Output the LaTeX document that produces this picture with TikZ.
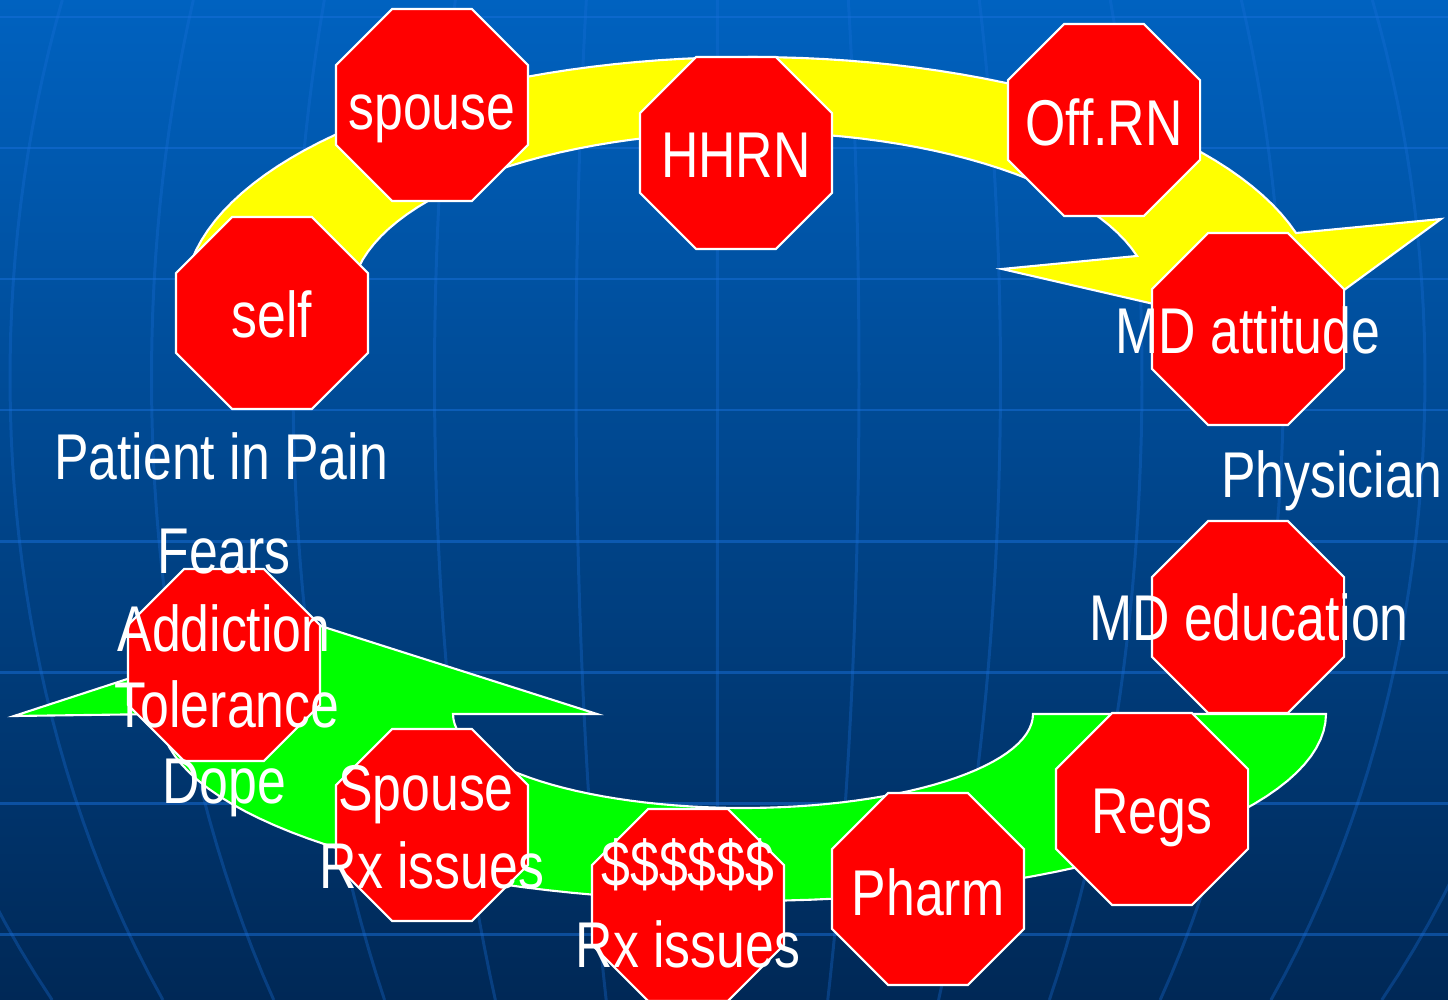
\documentclass[tikz,border=0pt]{standalone}
\usepackage{fontspec}
\setmainfont{Liberation Sans}[FakeStretch=0.8]
\usetikzlibrary{shapes.geometric}
\definecolor{bgtop}{RGB}{0,98,192}
\definecolor{bgmid}{RGB}{0,70,142}
\definecolor{bgbot}{RGB}{0,40,86}
\definecolor{gridc}{RGB}{25,112,218}
\definecolor{stopred}{RGB}{255,0,0}
\definecolor{arrowyellow}{RGB}{255,255,0}
\definecolor{arrowgreen}{RGB}{0,255,0}
\newcommand\lblfont{\fontsize{18.4}{22}\selectfont}
\tikzset{
  stopsign/.style={regular polygon, regular polygon sides=8, minimum size=2.078cm,
    inner sep=0pt, outer sep=0pt, fill=stopred, draw=white, line width=0.6pt},
  lbl/.style={text=white, inner sep=0pt, outer sep=0pt, anchor=base, font=\lblfont},
  hgridline/.style={draw=gridc, line width=0.85pt, opacity=0.5},
  vgridline/.style={draw=gridc, line width=0.85pt, opacity=0.32},
  bandarrow/.style={draw=white, line width=0.6pt, line join=miter}
}
\begin{document}
\begin{tikzpicture}[x=0.01cm, y=-0.01cm]
\useasboundingbox (0,0) rectangle (1448,1000);
\clip (0,0) rectangle (1448,1000);
% background
\shade[top color=bgtop, middle color=bgmid, bottom color=bgbot] (0,0) rectangle (1448,1000);
% globe grid
\foreach \k in {0,...,7}{
  \draw[hgridline] (0,{17+131*\k}) -- (1448,{17+131*\k});
}
\foreach \i in {-1,...,11}{
  \pgfmathsetmacro\u{-705+141.5*\i}
  \draw[vgridline] plot[domain=0:1000, samples=40, variable=\t]
    ({715+\u*sqrt(1-((\t-378)/1000)^2)},{\t});
}
% yellow curved arrow
\filldraw[fill=arrowyellow, bandarrow]
  plot[domain=180:16, samples=70, variable=\t] ({751+567*cos(\t)},{300-243*sin(\t)})
  -- (1441,219) -- (1284,334) -- (1002,269)
  -- plot[domain=15.2:180, samples=60, variable=\t] ({751+400*cos(\t)},{300-168*sin(\t)})
  -- cycle;
% green curved arrow
\filldraw[fill=arrowgreen, bandarrow]
  plot[domain=0:180, samples=70, variable=\t] ({743+583*cos(\t)},{714+187*sin(\t)})
  -- (14,716) -- (305,621) -- (597,714)
  -- plot[domain=180:0, samples=60, variable=\t] ({743+290*cos(\t)},{714+94*sin(\t)})
  -- cycle;
% stop signs
\node[stopsign] (self)    at (272,313) {};
\node[stopsign] (spouse)  at (432,105) {};
\node[stopsign] (hhrn)    at (736,153) {};
\node[stopsign] (offrn)   at (1104,120) {};
\node[stopsign] (mdatt)   at (1248,329) {};
\node[stopsign] (mdedu)   at (1248,617) {};
\node[stopsign] (regs)    at (1152,809) {};
\node[stopsign] (pharm)   at (928,889) {};
\node[stopsign] (money)   at (688,905) {};
\node[stopsign] (spouserx) at (432,825) {};
\node[stopsign] (fears)   at (224,665) {};
% labels
\node[lbl] (tspouse) at (432,129) {spouse};
\node[lbl] (tself)   at (272,337) {self};
\node[lbl] (thhrn)   at (736,177) {HHRN};
\node[lbl] (toffrn)  at (1104,145) {Off.RN};
\node[lbl] (tmdatt)  at (1248,353) {MD attitude};
\node[lbl] (tphys)   at (1332,497) {Physician};
\node[lbl] (tmdedu)  at (1249,640) {MD education};
\node[lbl] (tregs)   at (1152,833) {Regs};
\node[lbl] (tpatient) at (221,479) {Patient in Pain};
\node[lbl] (tfears1) at (224,573) {Fears};
\node[lbl] (tfears2) at (224,651) {Addiction};
\node[lbl] (tfears3) at (227,727) {Tolerance};
\node[lbl] (tfears4) at (224,803) {Dope};
\node[lbl] (tsp1)    at (426,810) {Spouse};
\node[lbl] (tsp2)    at (432,888) {Rx issues};
\node[lbl] (tmoney1) at (688,886) {\$\$\$\$\$\$};
\node[lbl] (tmoney2) at (688,967) {Rx issues};
\node[lbl] (tpharm)  at (928,915) {Pharm};
\end{tikzpicture}
\end{document}
